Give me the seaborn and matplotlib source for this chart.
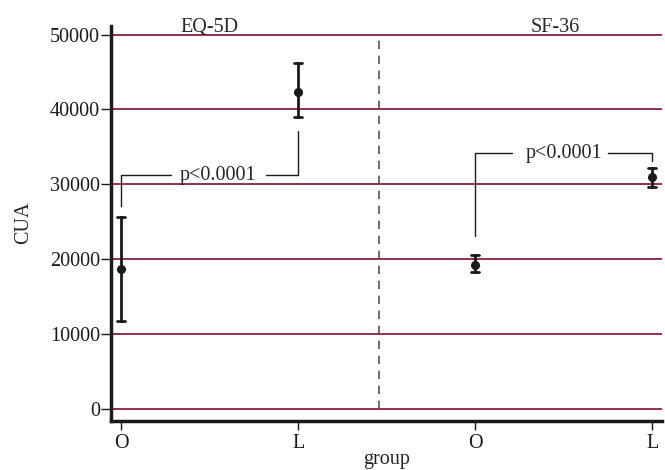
import numpy as np
import pandas as pd
import matplotlib
matplotlib.use('Agg')
import matplotlib.pyplot as plt
import seaborn as sns

# values
groups = ['EQ-5D O', 'EQ-5D L', 'SF-36 O', 'SF-36 L']
tick_labels = ['O', 'L', 'O', 'L']
cua_mean = [18700, 42400, 19250, 30980]
cua_low = [11800, 38940, 18280, 29640]
cua_high = [25700, 46260, 20550, 32180]
panel_names = ['EQ-5D', 'SF-36']
p_text = 'p<0.0001'

# long table: low / mean / high per group -> median = mean, 0-100 pi = interval
rows = []
for g, lo, m, hi in zip(groups, cua_low, cua_mean, cua_high):
    for v in (lo, m, hi):
        rows.append({'group': g, 'CUA': v})
df = pd.DataFrame(rows)

sns.set_style('ticks')
plt.rcParams['font.family'] = ['Liberation Serif', 'DejaVu Serif']
plt.rcParams['font.size'] = 14.5

grid_col = '#8c1c4a'
ink = '#1a1a1a'

fig = plt.figure(figsize=(6.65, 4.7), dpi=100)
ax = fig.add_axes([111 / 665, 1 - 420.5 / 470, (662 - 111) / 665, (420.5 - 26) / 470])

sns.pointplot(data=df, x='group', y='CUA', order=groups,
              estimator='median', errorbar=('pi', 100),
              linestyle='none', color=ink, markers='o', markersize=4.5,
              capsize=0.045, err_kws={'linewidth': 2}, ax=ax)

ax.set_xlim(-0.058, 3.056)
ax.set_ylim(-1550, 51150)
ax.set_yticks([0, 10000, 20000, 30000, 40000, 50000])
ax.set_xticks(range(len(groups)))
ax.set_xticklabels(tick_labels)

ax.set_axisbelow(True)
ax.yaxis.grid(True, color=grid_col, linewidth=1.3)
ax.xaxis.grid(False)

for side in ['top', 'right']:
    ax.spines[side].set_visible(False)
for side in ['left', 'bottom']:
    ax.spines[side].set_linewidth(2.5)
    ax.spines[side].set_color(ink)

ax.tick_params(axis='y', length=7, width=1, pad=1, colors=ink, labelsize=14.5)
ax.tick_params(axis='x', length=6.5, width=1, pad=3, colors=ink, labelsize=14.5)
ax.set_ylabel('CUA', fontsize=14.5, labelpad=12)
ax.set_xlabel('group', fontsize=14.5, labelpad=-2)

# divider between the two instruments
ax.vlines(1.458, 0, 50000, colors='#555555', linewidth=1.2, linestyles=(0, (5, 4)))

# panel names
ax.text(0.50, 50300, panel_names[0], ha='center', va='baseline', fontsize=14.5, clip_on=False)
ax.text(2.454, 50300, panel_names[1], ha='center', va='baseline', fontsize=14.5, clip_on=False)

# significance brackets
lw_b = 1.0
# EQ-5D
ax.plot([0, 0, 0.28], [27050, 31190, 31190], color=ink, lw=lw_b)
ax.plot([0.817, 1, 1], [31190, 31190, 37070], color=ink, lw=lw_b)
ax.text(0.548, 31190, p_text, ha='center', va='center', fontsize=14.5)
# SF-36
ax.plot([2, 2, 2.207], [23030, 34180, 34180], color=ink, lw=lw_b)
ax.plot([2.751, 3, 3], [34180, 34180, 33060], color=ink, lw=lw_b)
ax.text(2.502, 34180, p_text, ha='center', va='center', fontsize=14.5)

fig.savefig('out.png', dpi=100)
